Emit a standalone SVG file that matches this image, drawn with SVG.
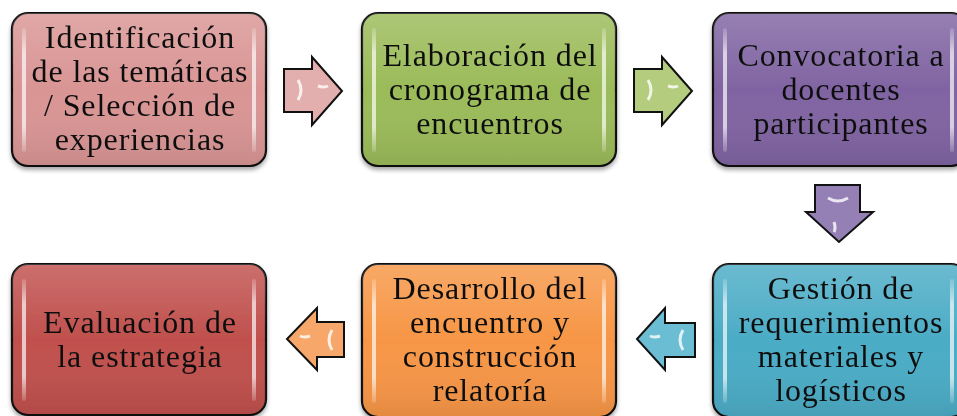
<svg xmlns="http://www.w3.org/2000/svg" width="957" height="416" viewBox="0 0 957 416">
<style>
.box{stroke:#111;stroke-width:2.2}
.t{font-family:"Liberation Serif","Times New Roman",serif;font-size:32px;letter-spacing:0.9px;fill:#111;text-anchor:middle}
.arr{stroke:#111;stroke-width:2;stroke-linejoin:miter}
.streak{fill:url(#streak);opacity:0.85}
</style>
<defs>
<linearGradient id="gloss" x1="0" y1="0" x2="0" y2="1">
<stop offset="0" stop-color="#fff" stop-opacity="0.18"/>
<stop offset="0.5" stop-color="#fff" stop-opacity="0"/>
<stop offset="1" stop-color="#000" stop-opacity="0.08"/>
</linearGradient>
<linearGradient id="streak" x1="0" y1="0" x2="0" y2="1">
<stop offset="0" stop-color="#fff" stop-opacity="0.2"/>
<stop offset="0.2" stop-color="#fff" stop-opacity="0.8"/>
<stop offset="0.8" stop-color="#fff" stop-opacity="0.8"/>
<stop offset="1" stop-color="#fff" stop-opacity="0.2"/>
</linearGradient>
<filter id="sh" x="-10%" y="-10%" width="120%" height="130%">
<feDropShadow dx="0" dy="3" stdDeviation="2" flood-color="#000" flood-opacity="0.35"/>
</filter>
</defs>

<g id="connectors">
<g id="a1"><path class="arr" d="M284,69 H312 V57 L342,91 L312,125 V112 H284 Z" fill="#E3AFAE"/>
<path d="M298,80 q6,10 0,20 M318,86 q6,2 10,0" stroke="#fff" stroke-width="3" fill="none" opacity="0.8"/></g>
<g id="a2"><path class="arr" d="M634,69 H662 V57 L692,91 L662,125 V112 H634 Z" fill="#B3CC7E"/>
<path d="M648,80 q6,10 0,20 M668,86 q6,2 10,0" stroke="#fff" stroke-width="3" fill="none" opacity="0.8"/></g>
<g id="a3"><path class="arr" d="M815,185 H860 V212 H873 L839,242 L806,212 H815 Z" fill="#9580B5"/>
<path d="M828,198 q10,6 20,0 M834,222 q2,6 0,10" stroke="#fff" stroke-width="3" fill="none" opacity="0.8"/></g>
<g id="a4"><path class="arr" d="M695,323 H665 V308 L637,339 L665,370 V357 H695 Z" fill="#6ABDD3"/>
<path d="M683,330 q-6,10 0,20 M660,336 q-6,2 -10,0" stroke="#fff" stroke-width="3" fill="none" opacity="0.8"/></g>
<g id="a5"><path class="arr" d="M344,322 H317 V308 L287,339 L317,370 V357 H344 Z" fill="#F8A76A"/>
<path d="M332,330 q-6,10 0,20 M310,336 q-6,2 -10,0" stroke="#fff" stroke-width="3" fill="none" opacity="0.8"/></g>
</g>

<g id="n1" filter="url(#sh)">
<rect class="box" x="12" y="13" width="254" height="153" rx="16" fill="#D99594"/>
<rect x="12" y="13" width="254" height="153" rx="16" fill="url(#gloss)"/>
<rect class="streak" x="22" y="28" width="4" height="124" rx="2"/>
<rect class="streak" x="252" y="28" width="4" height="124" rx="2"/>
<text class="t" x="140" y="48">Identificación</text>
<text class="t" x="140" y="82">de las temáticas</text>
<text class="t" x="140" y="116">/ Selección de</text>
<text class="t" x="140" y="150">experiencias</text>
</g>

<g id="n2" filter="url(#sh)">
<rect class="box" x="362" y="13" width="254" height="153" rx="16" fill="#9BBB59"/>
<rect x="362" y="13" width="254" height="153" rx="16" fill="url(#gloss)"/>
<rect class="streak" x="372" y="28" width="4" height="124" rx="2"/>
<rect class="streak" x="602" y="28" width="4" height="124" rx="2"/>
<text class="t" x="490" y="66">Elaboración del</text>
<text class="t" x="490" y="100">cronograma de</text>
<text class="t" x="490" y="134">encuentros</text>
</g>

<g id="n3" filter="url(#sh)">
<rect class="box" x="713" y="13" width="254" height="153" rx="16" fill="#8064A2"/>
<rect x="713" y="13" width="254" height="153" rx="16" fill="url(#gloss)"/>
<rect class="streak" x="723" y="28" width="4" height="124" rx="2"/>
<rect class="streak" x="950" y="28" width="4" height="124" rx="2"/>
<text class="t" x="841" y="66">Convocatoria a</text>
<text class="t" x="841" y="100">docentes</text>
<text class="t" x="841" y="134">participantes</text>
</g>

<g id="n4" filter="url(#sh)">
<rect class="box" x="713" y="264" width="254" height="153" rx="16" fill="#4BACC6"/>
<rect x="713" y="264" width="254" height="153" rx="16" fill="url(#gloss)"/>
<rect class="streak" x="723" y="279" width="4" height="124" rx="2"/>
<rect class="streak" x="950" y="279" width="4" height="124" rx="2"/>
<text class="t" x="841" y="299">Gestión de</text>
<text class="t" x="841" y="333">requerimientos</text>
<text class="t" x="841" y="367">materiales y</text>
<text class="t" x="841" y="401">logísticos</text>
</g>

<g id="n5" filter="url(#sh)">
<rect class="box" x="362" y="264" width="254" height="153" rx="16" fill="#F79646"/>
<rect x="362" y="264" width="254" height="153" rx="16" fill="url(#gloss)"/>
<rect class="streak" x="372" y="279" width="4" height="124" rx="2"/>
<rect class="streak" x="602" y="279" width="4" height="124" rx="2"/>
<text class="t" x="490" y="299">Desarrollo del</text>
<text class="t" x="490" y="333">encuentro y</text>
<text class="t" x="490" y="367">construcción</text>
<text class="t" x="490" y="401">relatoría</text>
</g>

<g id="n6" filter="url(#sh)">
<rect class="box" x="12" y="264" width="254" height="151" rx="16" fill="#C0504D"/>
<rect x="12" y="264" width="254" height="151" rx="16" fill="url(#gloss)"/>
<rect class="streak" x="22" y="279" width="4" height="122" rx="2"/>
<rect class="streak" x="252" y="279" width="4" height="122" rx="2"/>
<text class="t" x="140" y="333">Evaluación de</text>
<text class="t" x="140" y="367">la estrategia</text>
</g>
</svg>
